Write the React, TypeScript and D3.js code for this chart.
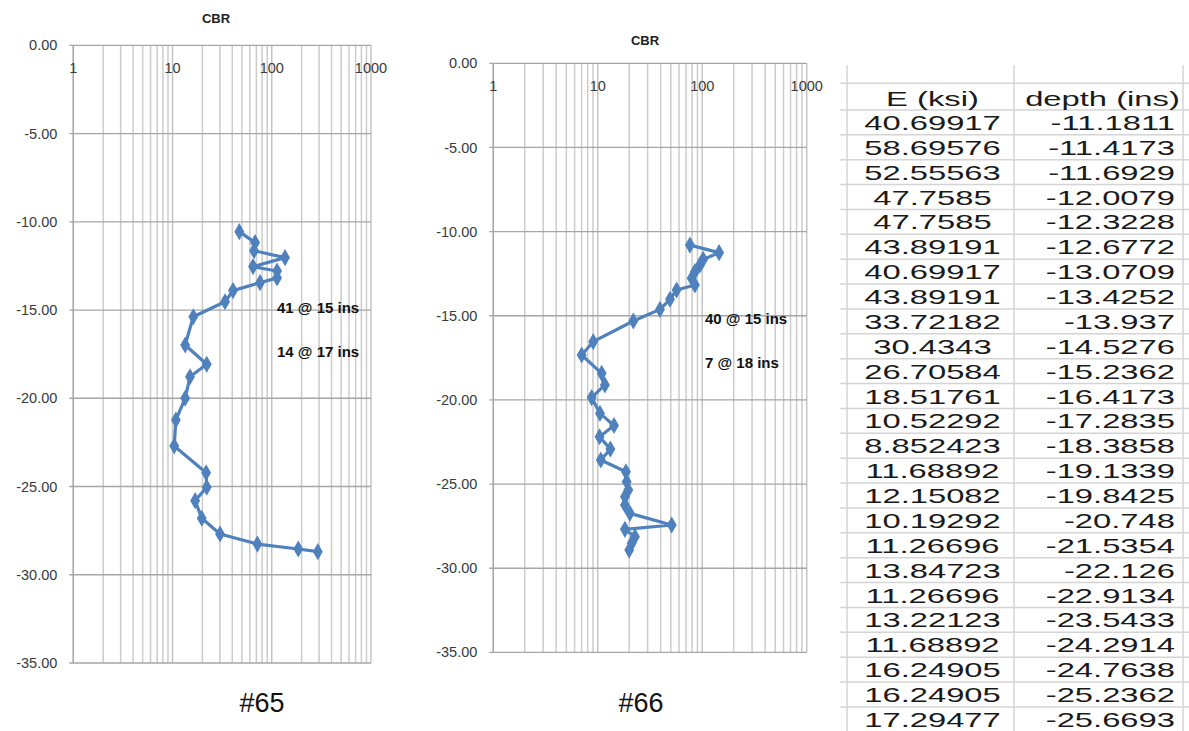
import React from "react";
import * as d3 from "d3";

// ---- Data ----
const cbr65 = [47.1, 67.9, 66.3, 136, 64.8, 113, 113, 76.2, 40.7, 33.8, 16.2, 13.4, 22.1, 15.0, 13.4, 10.8, 10.4, 21.8, 22.1, 16.9, 19.7, 30.1, 71.6, 185, 291];
const depth65 = [-10.56, -11.18, -11.64, -12.03, -12.54, -12.79, -13.18, -13.45, -13.9, -14.53, -15.38, -16.98, -18.07, -18.78, -20.0, -21.23, -22.7, -24.22, -25.04, -25.8, -26.8, -27.69, -28.26, -28.54, -28.69];

const cbr66 = [76.3, 145, 102, 95.1, 85.1, 79.2, 85.1, 56.9, 49.1, 39.4, 21.9, 9.05, 7.01, 10.9, 11.7, 8.74, 10.5, 14.3, 10.4, 13.2, 10.7, 18.6, 18.9, 19.6, 18.2, 18.2, 20.3, 51.0, 18.2, 22.7, 21.1, 20.0];
const depth66 = [-10.8, -11.25, -11.65, -11.98, -12.38, -12.77, -13.17, -13.47, -14.02, -14.62, -15.31, -16.54, -17.33, -18.42, -19.11, -19.86, -20.8, -21.52, -22.19, -22.92, -23.57, -24.27, -24.86, -25.35, -25.75, -26.24, -26.74, -27.43, -27.69, -28.13, -28.52, -28.92];

const yTicks = [0, -5, -10, -15, -20, -25, -30, -35];
const xTicks = [1, 10, 100, 1000];

const notes65 = ["41 @ 15 ins", "14 @ 17 ins"];
const notes66 = ["40 @ 15 ins", "7 @ 18 ins"];

const tableHeaders = ["E (ksi)", "depth (ins)"];
const eKsi = ["40.69917", "58.69576", "52.55563", "47.7585", "47.7585", "43.89191", "40.69917", "43.89191", "33.72182", "30.4343", "26.70584", "18.51761", "10.52292", "8.852423", "11.68892", "12.15082", "10.19292", "11.26696", "13.84723", "11.26696", "13.22123", "11.68892", "16.24905", "16.24905", "17.29477"];
const depthIns = ["-11.1811", "-11.4173", "-11.6929", "-12.0079", "-12.3228", "-12.6772", "-13.0709", "-13.4252", "-13.937", "-14.5276", "-15.2362", "-16.4173", "-17.2835", "-18.3858", "-19.1339", "-19.8425", "-20.748", "-21.5354", "-22.126", "-22.9134", "-23.5433", "-24.2914", "-24.7638", "-25.2362", "-25.6693"];

const BLUE = "#4f81bd";
const FONT = "'Liberation Sans', Arial, sans-serif";

type ChartProps = {
  left: number; right: number; top: number; bottom: number;
  cbr: number[]; depth: number[];
  titleX: number; titleY: number;
  notes: string[]; noteX: number; noteYs: number[];
  label: string; labelX: number; labelY: number;
};

function Chart(p: ChartProps) {
  const x = d3.scaleLog().domain([1, 1000]).range([p.left, p.right]);
  const y = d3.scaleLinear().domain([0, -35]).range([p.top, p.bottom]);
  const minor: number[] = [];
  for (let k = 0; k < 3; k++) for (let m = 2; m <= 9; m++) minor.push(m * Math.pow(10, k));
  const pts = p.cbr.map((v, i) => [x(v), y(p.depth[i])] as [number, number]);
  const line = d3.line()(pts) || "";
  const diamond = d3.symbol().type(d3.symbolDiamond).size(85)() || "";
  return (
    <g>
      {minor.map((v) => (
        <line key={"m" + v} x1={x(v)} x2={x(v)} y1={p.top} y2={p.bottom} stroke="#cccccc" strokeWidth={1.5} />
      ))}
      {xTicks.map((v) => (
        <line key={"M" + v} x1={x(v)} x2={x(v)} y1={p.top} y2={p.bottom} stroke="#c4c4c4" strokeWidth={1.5} />
      ))}
      {yTicks.map((t) => (
        <g key={"y" + t}>
          <line x1={p.left - 4} x2={p.right} y1={y(t)} y2={y(t)} stroke="#a6a6a6" strokeWidth={1.3} />
          <text x={p.left - 16} y={y(t)} dy="0.35em" textAnchor="end" fontFamily={FONT} fontSize={14.5} fill="#3a3a3a">
            {t.toFixed(2)}
          </text>
        </g>
      ))}
      <line x1={p.left} x2={p.left} y1={p.top} y2={p.bottom} stroke="#a6a6a6" strokeWidth={1.3} />
      {xTicks.map((v) => (
        <text key={"xl" + v} x={x(v)} y={p.top + 23} dy="0.35em" textAnchor="middle" fontFamily={FONT} fontSize={14.5} fill="#3a3a3a">
          {v}
        </text>
      ))}
      <text x={p.titleX} y={p.titleY} dy="0.35em" textAnchor="middle" fontFamily={FONT} fontWeight="bold" fontSize={13} fill="#222">
        CBR
      </text>
      <path d={line} fill="none" stroke={BLUE} strokeWidth={3.2} strokeLinejoin="round" />
      {pts.map((pt, i) => (
        <path key={"pt" + i} d={diamond} transform={`translate(${pt[0]},${pt[1]})`} fill={BLUE} />
      ))}
      {p.notes.map((n, i) => (
        <text key={"n" + i} x={p.noteX} y={p.noteYs[i]} dy="0.35em" fontFamily={FONT} fontWeight="bold" fontSize={15} fill="#111">
          {n}
        </text>
      ))}
      <text x={p.labelX} y={p.labelY} dy="0.35em" textAnchor="middle" fontFamily={FONT} fontSize={27} fill="#111">
        {p.label}
      </text>
    </g>
  );
}

function Table() {
  const left = 847, mid = 1014, right = 1183;
  const headerTop = 83.3;
  const firstRowTop = 110;
  const rowH = 24.87;
  const sx = 1.56;
  const lines: number[] = [headerTop];
  for (let i = 0; i <= eKsi.length; i++) lines.push(firstRowTop + i * rowH);
  return (
    <g>
      {[left, mid, right].map((vx) => (
        <line key={"v" + vx} x1={vx} x2={vx} y1={65} y2={731} stroke="#d4d4d4" strokeWidth={1.5} />
      ))}
      {lines.map((ly, i) => (
        <line key={"h" + i} x1={840} x2={1189} y1={ly} y2={ly} stroke="#d4d4d4" strokeWidth={1.5} />
      ))}
      <text transform={`translate(${(left + mid) / 2 + 2},106) scale(${sx},1)`} textAnchor="middle" fontFamily={FONT} fontSize={21} fill="#1a1a1a">
        {tableHeaders[0]}
      </text>
      <text transform={`translate(${(mid + right) / 2 + 4},106) scale(${sx},1)`} textAnchor="middle" fontFamily={FONT} fontSize={21} fill="#1a1a1a">
        {tableHeaders[1]}
      </text>
      {eKsi.map((e, i) => (
        <g key={"r" + i}>
          <text transform={`translate(${(left + mid) / 2 + 2},${130 + i * rowH}) scale(${sx},1)`} textAnchor="middle" fontFamily={FONT} fontSize={21} fill="#1a1a1a">
            {e}
          </text>
          <text transform={`translate(1175,${130 + i * rowH}) scale(${sx},1)`} textAnchor="end" fontFamily={FONT} fontSize={21} fill="#1a1a1a">
            {depthIns[i]}
          </text>
        </g>
      ))}
    </g>
  );
}

export default function App() {
  return (
    <div style={{ position: "absolute", left: 0, top: 0 }}>
      <svg width={1189} height={731} style={{ display: "block", background: "#fff" }}>
        <Chart left={73.3} right={371} top={45.3} bottom={663} cbr={cbr65} depth={depth65}
          titleX={216} titleY={18} notes={notes65} noteX={277} noteYs={[308, 352]}
          label="#65" labelX={262} labelY={703} />
        <Chart left={493.3} right={806.7} top={63.3} bottom={652.4} cbr={cbr66} depth={depth66}
          titleX={645} titleY={40} notes={notes66} noteX={705} noteYs={[319, 363]}
          label="#66" labelX={641} labelY={703} />
        <Table />
      </svg>
    </div>
  );
}
